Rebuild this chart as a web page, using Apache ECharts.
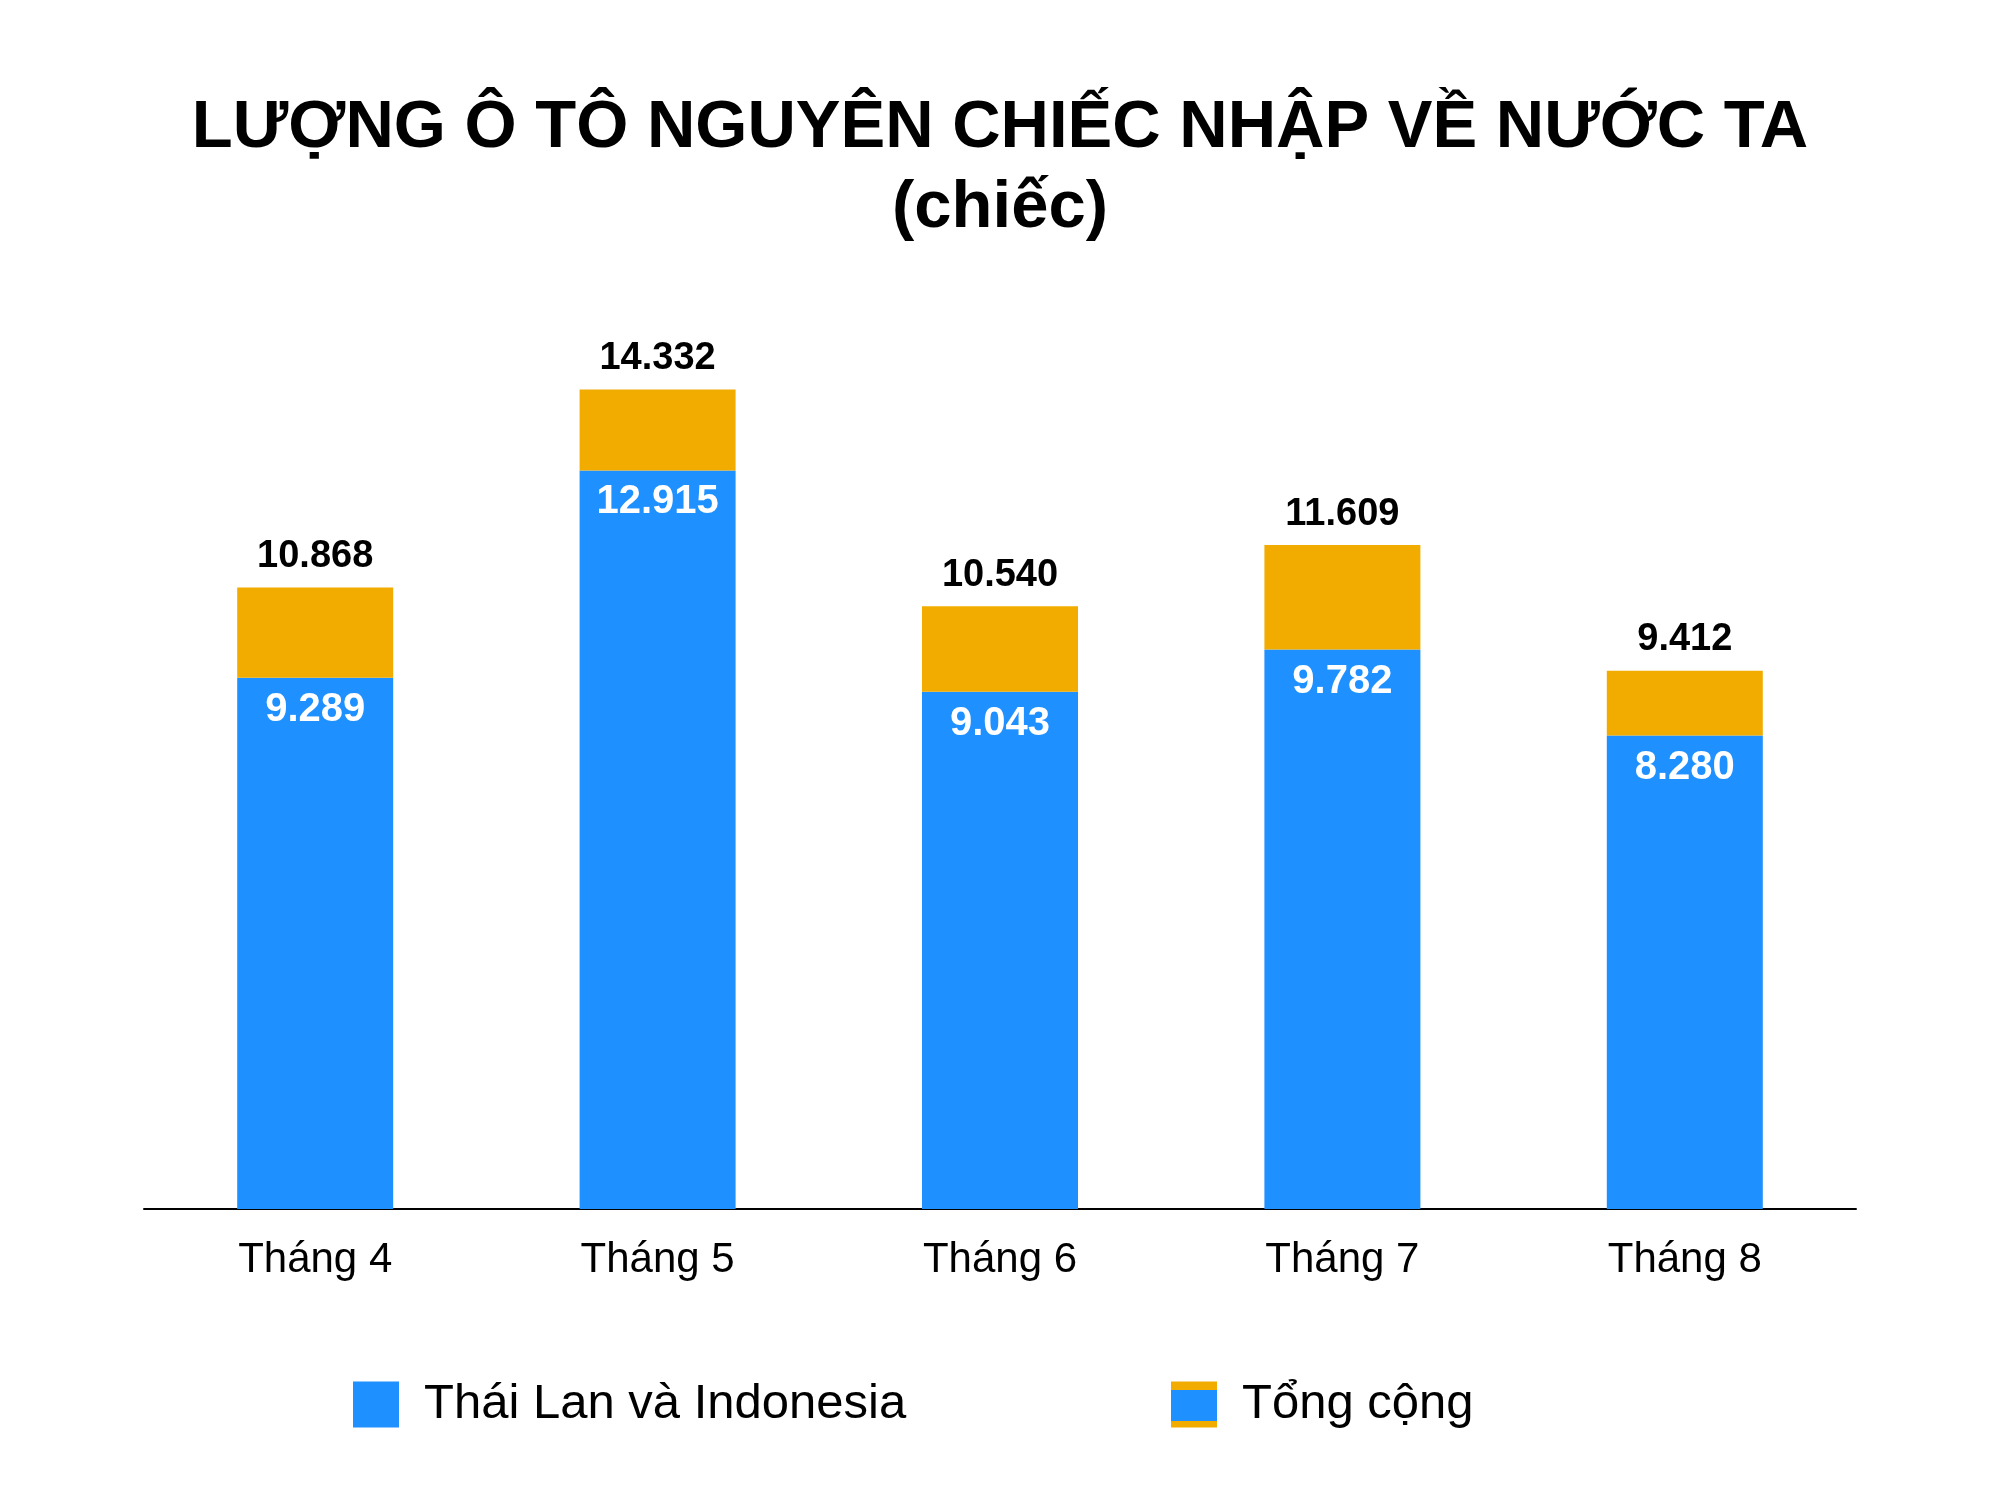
<!DOCTYPE html>
<html><head><meta charset="utf-8">
<script src="https://cdn.jsdelivr.net/npm/echarts@6/dist/echarts.min.js"></script>
<style>html,body{margin:0;padding:0;background:#fff}#c{width:2000px;height:1505px}</style>
</head><body><div id="c"></div>
<script>
const categories = ['Tháng 4','Tháng 5','Tháng 6','Tháng 7','Tháng 8'];
const thaiIndo = [9289, 12915, 9043, 9782, 8280];
const total = [10868, 14332, 10540, 11609, 9412];
const rest = total.map((t,i)=>t-thaiIndo[i]);
const fmt = v => v.toLocaleString('de-DE');
const F = '"Liberation Sans", Arial, sans-serif';
const BLUE = '#1E90FF', ORANGE = '#F2AC00';
const chart = echarts.init(document.getElementById('c'));
chart.setOption({
  animation:false,
  title:{text:'LƯỢNG Ô TÔ NGUYÊN CHIẾC NHẬP VỀ NƯỚC TA\n(chiếc)',left:'center',top:84,
    textStyle:{fontFamily:F,fontWeight:'bold',fontSize:67,lineHeight:80,color:'#000'}},
  grid:{left:144,right:144,top:294,bottom:296},
  xAxis:{type:'category',data:categories,axisTick:{show:false},
    axisLine:{lineStyle:{color:'#000',width:2}},
    axisLabel:{fontFamily:F,fontSize:42,color:'#000',margin:30}},
  yAxis:{type:'value',min:0,max:16000,show:false,splitLine:{show:false}},
  legend:[
    {data:['Thái Lan và Indonesia'],left:348,top:1375,itemWidth:46,itemHeight:46,icon:'rect',
     textStyle:{fontFamily:F,fontSize:49,color:'#000',padding:[0,0,0,20]}},
    {data:['Tổng cộng'],left:1166,top:1375,itemWidth:46,itemHeight:46,icon:'rect',
     textStyle:{fontFamily:F,fontSize:49,color:'#000',padding:[0,0,0,20]}}
  ],
  graphic:[{type:'rect',shape:{x:1171,y:1390,width:46,height:31},style:{fill:BLUE},z:100}],
  series:[
    {name:'Thái Lan và Indonesia',type:'bar',stack:'a',barWidth:156,data:thaiIndo,
     itemStyle:{color:BLUE},
     label:{show:true,position:'insideTop',distance:12,formatter:p=>fmt(p.value),
       fontFamily:F,fontWeight:'bold',fontSize:40,color:'#fff'}},
    {name:'Tổng cộng',type:'bar',stack:'a',barWidth:156,data:rest,
     itemStyle:{color:ORANGE},
     label:{show:true,position:'top',distance:12,formatter:p=>fmt(total[p.dataIndex]),
       fontFamily:F,fontWeight:'bold',fontSize:38,color:'#000'}}
  ]
});
</script></body></html>
